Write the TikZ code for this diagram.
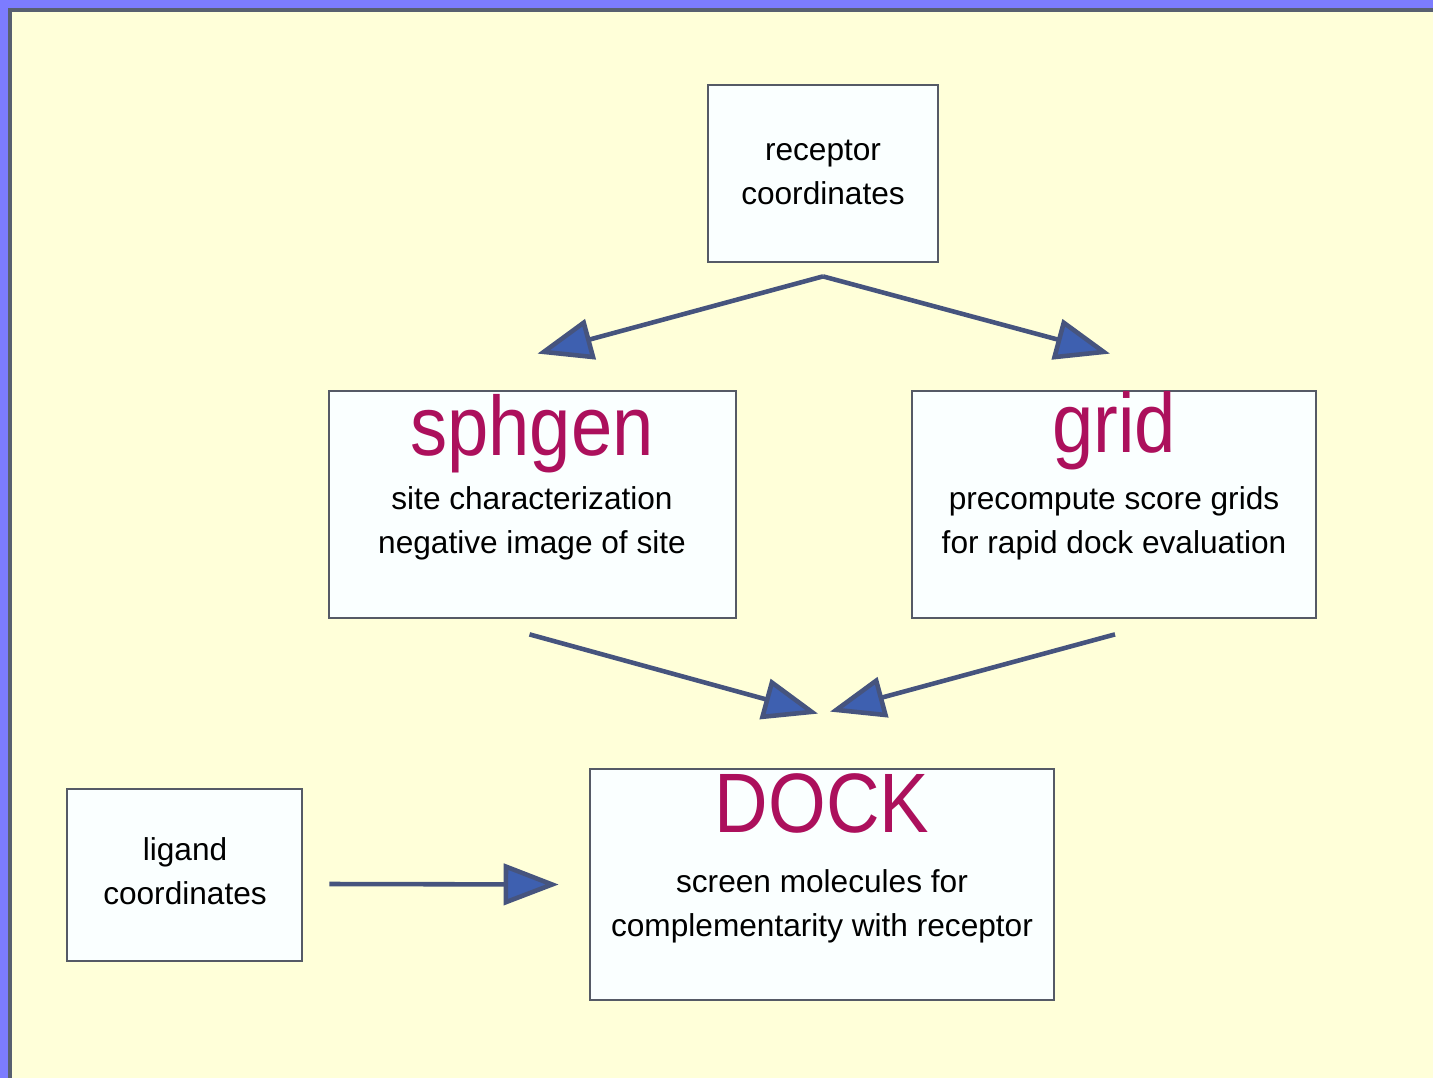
\documentclass[tikz,border=0pt]{standalone}
\usepackage{fontspec}
\setmainfont{Liberation Sans}
\usepackage{graphicx}
\usepackage{tikz}
\usetikzlibrary{arrows.meta, positioning, calc}

\definecolor{framebg}{RGB}{124,124,255}
\definecolor{framegray}{RGB}{88,96,112}
\definecolor{paper}{RGB}{255,255,217}
\definecolor{boxgray}{RGB}{85,90,102}
\definecolor{boxfill}{RGB}{250,255,255}
\definecolor{titlered}{RGB}{172,16,92}
\definecolor{linegray}{RGB}{70,84,126}
\definecolor{headblue}{RGB}{62,96,176}

\newcommand{\titletext}[1]{\scalebox{0.88}[1]{#1}}

\begin{document}
\begin{tikzpicture}[
    x=0.02cm, y=-0.02cm,
    box/.style={draw=boxgray, line width=1.6pt, fill=boxfill, inner sep=0pt},
    title/.style={anchor=base, inner sep=0pt, text=titlered, font=\fontsize{48}{54}\selectfont},
    txt/.style={align=center, font=\fontsize{18}{25}\selectfont},
    arr/.style={-{Triangle[length=1.1cm, width=0.82cm, fill=headblue]}, line width=2.6pt, draw=linegray}
]

    % Frame and background
    \useasboundingbox (0,0) rectangle (1433,1078);
    \fill[framebg] (0,0) rectangle (1433,1078);
    \fill[framegray] (8,8) rectangle (1433,1078);
    \fill[paper] (12,12) rectangle (1433,1078);

    % Receptor box
    \node[box, minimum width=4.6cm, minimum height=3.54cm] (recep) at (823,173.5) {};
    \node[txt] (recep-txt) at (823,172) {receptor\\coordinates};

    % sphgen box
    \node[box, minimum width=8.14cm, minimum height=4.54cm] (sphgen) at (532.5,504.5) {};
    \node[title] (sphgen-title) at (532,455) {\titletext{sphgen}};
    \node[txt] (sphgen-txt) at (532,523) {site characterization\\negative image of site};

    % grid box
    \node[box, minimum width=8.08cm, minimum height=4.54cm] (grid) at (1114,504.5) {};
    \node[title] (grid-title) at (1114,452) {\titletext{grid}};
    \node[txt] (grid-txt) at (1114,523) {precompute score grids\\for rapid dock evaluation};

    % DOCK box
    \node[box, minimum width=9.28cm, minimum height=4.62cm] (dock) at (822,884.5) {};
    \node[title] (dock-title) at (822,832) {\titletext{DOCK}};
    \node[txt] (dock-txt) at (822,906) {screen molecules for\\complementarity with receptor};

    % Ligand box
    \node[box, minimum width=4.7cm, minimum height=3.44cm] (lig) at (184.5,875) {};
    \node[txt] (lig-txt) at (185,871) {ligand\\coordinates};

    % Arrow ends
    \coordinate (fork) at ($(recep.south)+(0,13)$);
    \coordinate (sphgen-in) at ($(sphgen.north)+(5,-36)$);
    \coordinate (grid-in) at ($(grid.north)+(-4,-36)$);
    \coordinate (sphgen-out) at ($(sphgen.south)+(-3,15)$);
    \coordinate (grid-out) at ($(grid.south)+(1,15)$);
    \coordinate (dock-in-l) at ($(dock.north)+(-4,-54)$);
    \coordinate (dock-in-r) at ($(dock.north)+(8,-56)$);
    \coordinate (lig-out) at ($(lig.east)+(26,9)$);
    \coordinate (dock-in) at ($(dock.west)+(-30,0)$);

    % Arrows
    \draw[arr] (fork) -- (sphgen-in);
    \draw[arr] (fork) -- (grid-in);
    \draw[arr] (sphgen-out) -- (dock-in-l);
    \draw[arr] (grid-out) -- (dock-in-r);
    \draw[arr] (lig-out) -- (dock-in);

\end{tikzpicture}
\end{document}
